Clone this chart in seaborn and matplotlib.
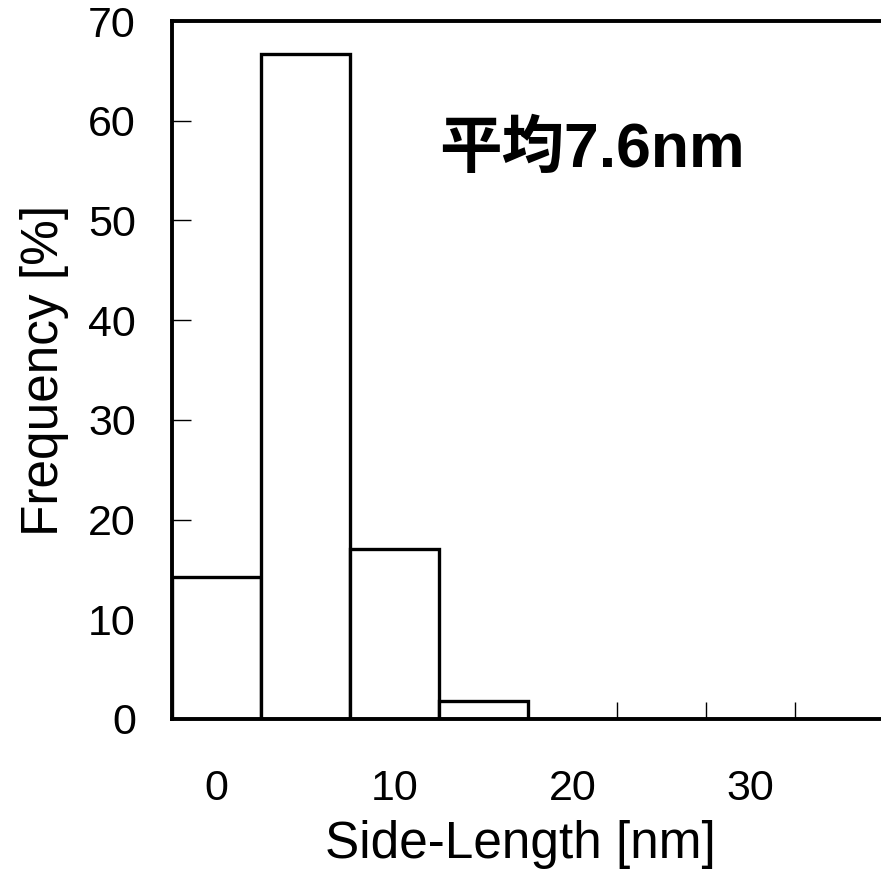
import matplotlib
matplotlib.use("Agg")
import matplotlib.pyplot as plt
import seaborn as sns
import pandas as pd

categories = ["0", "5", "10", "15", "20", "25", "30", "35"]
frequency = [14.2, 66.7, 17.0, 1.8, 0.0, 0.0, 0.0, 0.0]
xtick_labels = ["0", "10", "20", "30"]
yticks = [0, 10, 20, 30, 40, 50, 60, 70]
annotation = "平均7.6nm"

sns.set_theme(style="white")
plt.rcParams['font.family'] = ['Liberation Sans', 'Noto Sans CJK JP', 'DejaVu Sans']
plt.rcParams.update({"text.color": "black", "axes.labelcolor": "black",
                     "xtick.color": "black", "ytick.color": "black"})

df = pd.DataFrame({"size": categories, "freq": frequency})

fig = plt.figure(figsize=(8.81, 8.71), dpi=100)
ax = fig.add_axes([172/881, 1-719/871, (884-172)/881, (719-21)/871])

sns.barplot(data=df, x="size", y="freq", order=categories, width=1.0,
            color="white", edgecolor="black", linewidth=2.4, ax=ax,
            saturation=1)

ax.set_xlim(-0.5, len(categories) - 0.5)
ax.set_ylim(0, 70)
ax.set_yticks(yticks)
ax.set_yticklabels([str(v) for v in yticks], fontsize=31)
ax.set_xticks([0, 2, 4, 6])
ax.set_xticklabels(xtick_labels, fontsize=31)
ax.set_xticks([i + 0.5 for i in range(len(categories) - 1)], minor=True)
ax.tick_params(axis="x", which="major", length=0, pad=36)
ax.tick_params(axis="x", which="minor", direction="in", length=12, width=1, color="black", bottom=True)
ax.tick_params(axis="y", which="major", direction="in", length=14, width=1, color="black", left=True, pad=26)

for s in ax.spines.values():
    s.set_color("black")
    s.set_linewidth(2.8)
ax.spines["right"].set_visible(False)

ax.set_xlabel("Side-Length [nm]", fontsize=37, labelpad=8)
ax.set_ylabel("Frequency [%]", fontsize=37, labelpad=14)
ax.xaxis.label.set_x((520 - 172) / (884 - 172))

ax.text(4.22, 57.0, annotation, fontsize=45, fontweight="bold",
        ha="center", va="center", color="black",
        family=['Liberation Sans', 'Noto Sans CJK JP'])

fig.savefig("out.png", dpi=100)
